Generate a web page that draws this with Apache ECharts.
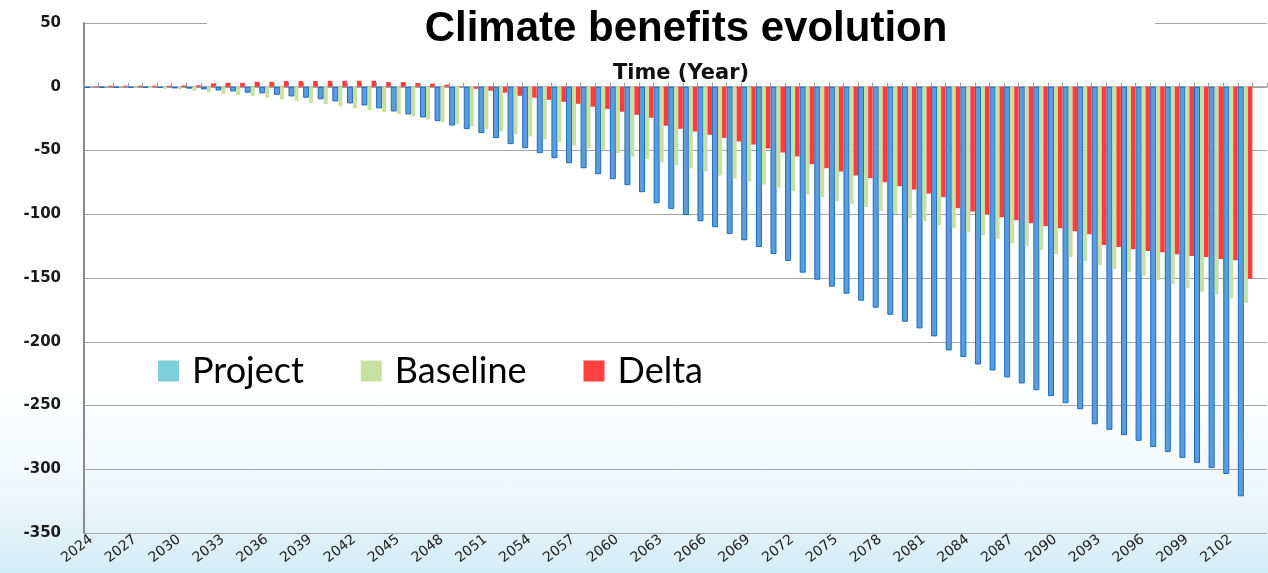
<!DOCTYPE html>
<html>
<head>
<meta charset="utf-8">
<script src="https://cdn.jsdelivr.net/npm/echarts@6/dist/echarts.min.js"></script>
<style>
  html, body { margin:0; padding:0; }
  body { width:1268px; height:573px;
    background: linear-gradient(to bottom, #ffffff 0%, #ffffff 68%, #eef7fb 86%, #d4ecf7 100%); }
  #chart { width:1268px; height:573px; }
</style>
</head>
<body>
<div id="chart"></div>
<script>
var years = [2024,2025,2026,2027,2028,2029,2030,2031,2032,2033,2034,2035,2036,2037,2038,2039,
  2040,2041,2042,2043,2044,2045,2046,2047,2048,2049,2050,2051,2052,2053,2054,2055,2056,2057,2058,2059,
  2060,2061,2062,2063,2064,2065,2066,2067,2068,2069,2070,2071,2072,2073,2074,2075,2076,2077,2078,2079,
  2080,2081,2082,2083,2084,2085,2086,2087,2088,2089,2090,2091,2092,2093,2094,2095,2096,2097,2098,2099,
  2100,2101,2102,2103,2104];

var project = [-0.8,-0.8,-0.8,-0.8,-0.8,-0.9,-1.3,-1.5,-2.1,-2.9,-3.7,-4.7,-5.2,-6.3,-7.6,-8.6,
  -9.9,-11.5,-13.1,-14.7,-17.0,-19.4,-21.7,-24.1,-27.0,-30.4,-33.2,-36.4,-40.3,-45.0,-48.2,-52.1,-56.0,-60.0,-63.9,-68.6,
  -72.5,-77.2,-82.7,-91.4,-95.8,-100.5,-105.5,-110.2,-115.4,-120.4,-125.7,-131.2,-136.6,-145.8,-151.3,-156.8,-162.3,-167.8,-173.3,-178.8,
  -184.3,-189.5,-195.8,-206.8,-212.0,-217.8,-222.5,-228.0,-232.7,-238.0,-242.7,-248.2,-252.9,-264.7,-269.1,-273.3,-277.7,-282.5,-286.4,-291.1,
  -295.0,-299.0,-303.7,-321.2,null];

var baseline = [-0.2,-0.3,-0.5,-0.7,-1.0,-1.6,-2.1,-3.1,-4.2,-5.5,-6.5,-7.3,-8.6,-9.9,-11.0,-12.6,
  -13.6,-15.4,-17.0,-18.3,-19.9,-21.5,-23.3,-25.7,-27.7,-29.3,-31.2,-33.2,-35.1,-37.2,-39.0,-41.4,-43.6,-46.1,-48.4,-49.5,
  -52.1,-54.7,-56.8,-59.4,-61.8,-64.1,-66.5,-69.6,-72.0,-74.3,-76.7,-79.1,-81.9,-84.4,-86.6,-89.8,-92.1,-94.5,-97.6,-99.7,
  -103.1,-105.5,-108.6,-111.0,-114.1,-116.5,-119.6,-122.8,-125.1,-128.0,-131.2,-133.5,-136.6,-139.8,-142.9,-145.3,-148.2,-151.6,-154.7,-157.9,
  -160.7,-163.1,-166.2,-169.6,null];

var delta = [0.5,0.8,0.8,0.8,0.8,0.8,1.0,1.2,2.6,3.1,3.1,3.9,3.9,4.5,4.5,4.5,
  4.7,4.7,4.7,4.7,3.7,3.7,2.9,2.4,1.6,0.3,-1.6,-3.1,-4.7,-7.1,-8.6,-10.2,-11.8,-13.4,-15.7,-17.5,
  -19.6,-22.0,-24.3,-30.6,-33.0,-35.1,-37.7,-40.1,-42.9,-45.3,-48.4,-51.6,-54.7,-60.7,-63.9,-66.5,-69.6,-71.7,-74.9,-78.0,
  -80.6,-83.8,-86.6,-95.3,-97.9,-100.0,-102.4,-104.7,-107.1,-109.4,-111.0,-113.4,-115.7,-124.1,-125.7,-127.5,-128.8,-129.8,-131.4,-132.7,
  -133.5,-135.1,-136.1,-150.5,null];

var yTicks = { min: -350, max: 50, step: 50 };
var titleText = 'Climate benefits evolution';
var axisTitle = 'Time (Year)';
var seriesNames = ['Project', 'Baseline', 'Delta'];

var chart = echarts.init(document.getElementById('chart'), null, { renderer: 'canvas' });
chart.setOption({
  animation: false,
  backgroundColor: 'transparent',
  title: {
    text: titleText,
    left: 681, top: 3, textAlign: 'center',
    textStyle: { fontFamily: 'Liberation Sans', fontWeight: 'bold', fontSize: 42, color: '#000' }
  },
  graphic: [
    { type: 'rect', z: 5, shape: { x: 207, y: 14, width: 948, height: 20 }, style: { fill: '#ffffff' } },
    { type: 'text', z: 6, x: 681, y: 74,
      style: { text: axisTitle, font: 'bold 21px "DejaVu Sans"', fill: '#111', align: 'center', verticalAlign: 'middle' } }
  ],
  legend: {
    left: 153, top: 348,
    itemWidth: 21, itemHeight: 21, itemGap: 57,
    icon: 'rect',
    textStyle: { fontFamily: 'Lato', fontSize: 36, color: '#000', padding: [0, 0, 0, 8] },
    data: [
      { name: 'Project', itemStyle: { color: '#7ecfdc', borderWidth: 0 } },
      { name: 'Baseline', itemStyle: { color: '#c6e1a2', borderWidth: 0 } },
      { name: 'Delta', itemStyle: { color: '#ff4141', borderWidth: 0 } }
    ]
  },
  grid: { left: 84, right: 1, top: 23, bottom: 40, containLabel: false },
  xAxis: [
    {
      type: 'category', data: years, position: 'bottom',
      axisLine: { show: false, onZero: false },
      axisTick: { show: false },
      axisLabel: { show: true, interval: 2, rotate: 38, margin: 5, fontFamily: 'DejaVu Sans', fontSize: 14, color: '#222' }
    },
    {
      type: 'category', data: years, position: 'top',
      axisLine: { show: true, onZero: true, lineStyle: { color: '#9a9a9a', width: 1.5 } },
      axisTick: { show: true, interval: 0, length: 4, lineStyle: { color: '#9a9a9a' } },
      axisLabel: { show: false }
    }
  ],
  yAxis: {
    type: 'value', min: yTicks.min, max: yTicks.max, interval: yTicks.step,
    axisLine: { show: true, lineStyle: { color: '#8a8a8a', width: 2 } },
    axisTick: { show: false },
    axisLabel: { margin: 23, fontFamily: 'DejaVu Sans', fontWeight: 'bold', fontSize: 15, color: '#1a1a1a' },
    splitLine: { lineStyle: { color: '#a4a4a4', width: 1 } }
  },
  series: [
    { name: seriesNames[0], type: 'bar', data: project, barWidth: 6, barGap: '0%', barCategoryGap: '0%',
      itemStyle: { color: '#5b9dd9', borderColor: '#1a6cc4', borderWidth: 1 } },
    { name: seriesNames[1], type: 'bar', data: baseline, barWidth: 4, barGap: '0%',
      itemStyle: { color: '#c6e1a2' } },
    { name: seriesNames[2], type: 'bar', data: delta, barWidth: 4.5, barGap: '0%',
      itemStyle: { color: '#ff3c3c' } }
  ]
});
</script>
</body>
</html>
